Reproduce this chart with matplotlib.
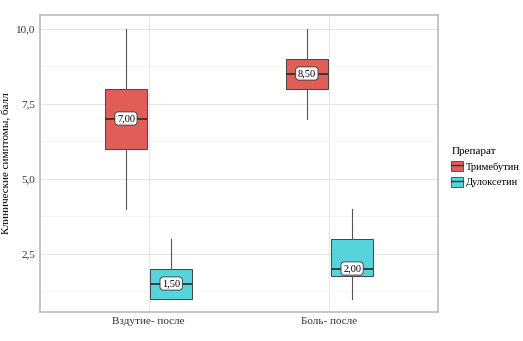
import matplotlib.pyplot as plt
from matplotlib.patches import Patch
from matplotlib.lines import Line2D
from matplotlib.ticker import FuncFormatter, MultipleLocator

plt.rcParams['font.family'] = ['Liberation Serif', 'DejaVu Serif']

categories = ["Вздутие- после", "Боль- после"]
drugs = ["Тримебутин", "Дулоксетин"]
colors = ["#DF5E58", "#57D4DB"]

# box statistics per drug, one value per category
whislo = {"Тримебутин": [4, 7], "Дулоксетин": [1, 1]}
q1 = {"Тримебутин": [6, 8], "Дулоксетин": [1, 1.75]}
med = {"Тримебутин": [7, 8.5], "Дулоксетин": [1.5, 2]}
q3 = {"Тримебутин": [8, 9], "Дулоксетин": [2, 3]}
whishi = {"Тримебутин": [10, 10], "Дулоксетин": [3, 4]}

fig = plt.figure(figsize=(5.23, 3.41), dpi=100)
ax = fig.add_axes([0.0765, 0.085, 0.761, 0.871])

offsets = [-0.125, 0.125]
for d, drug in enumerate(drugs):
    stats = []
    for i in range(len(categories)):
        stats.append(dict(whislo=whislo[drug][i], q1=q1[drug][i], med=med[drug][i],
                          q3=q3[drug][i], whishi=whishi[drug][i], fliers=[]))
    pos = [i + 1 + offsets[d] for i in range(len(categories))]
    ax.bxp(stats, positions=pos, widths=0.23, patch_artist=True, showcaps=False,
           boxprops=dict(facecolor=colors[d], edgecolor="#444444", linewidth=0.7),
           medianprops=dict(color="#333333", linewidth=1.3),
           whiskerprops=dict(color="#555555", linewidth=0.8), zorder=3)
    for p, m in zip(pos, med[drug]):
        ax.text(p, m, f"{m:.2f}".replace(".", ","), ha="center", va="center", fontsize=7.5,
                zorder=5, bbox=dict(boxstyle="round,pad=0.2,rounding_size=0.3",
                                    facecolor="white", edgecolor="#333333", linewidth=0.6))

ax.set_xlim(0.4, 2.6)
ax.set_ylim(0.55, 10.45)
ax.set_xticks([1, 2])
ax.set_xticklabels(categories, fontsize=8)
ax.yaxis.set_major_locator(MultipleLocator(2.5))
ax.yaxis.set_minor_locator(MultipleLocator(1.25))
ax.yaxis.set_major_formatter(FuncFormatter(lambda v, p: f"{v:.1f}".replace(".", ",")))
ax.tick_params(axis="y", labelsize=8, colors="#333333", length=0, which="both")
ax.tick_params(axis="x", colors="#333333", length=0)
ax.set_ylabel("Клинические симптомы, балл", fontsize=8)
ax.yaxis.set_label_coords(-0.072, 0.5)

ax.grid(True, which="major", color="#E6E6E6", linewidth=0.8)
ax.grid(True, which="minor", axis="y", color="#F2F2F2", linewidth=0.6)
ax.set_axisbelow(True)
for s in ax.spines.values():
    s.set_color("#BBBBBB")
    s.set_linewidth(1.2)

handles = [(Patch(facecolor=c, edgecolor="#444444", linewidth=0.6),
            Line2D([], [], color="#333333", linewidth=1.0)) for c in colors]
leg = fig.legend(handles, drugs, title="Препарат", loc="center left",
                 bbox_to_anchor=(0.855, 0.51), frameon=False, fontsize=7.5,
                 title_fontsize=8, handlelength=1.1, handleheight=1.1,
                 handletextpad=0.3, labelspacing=0.5, borderaxespad=0)
leg._legend_box.align = "left"

fig.savefig("out.png", dpi=100)
